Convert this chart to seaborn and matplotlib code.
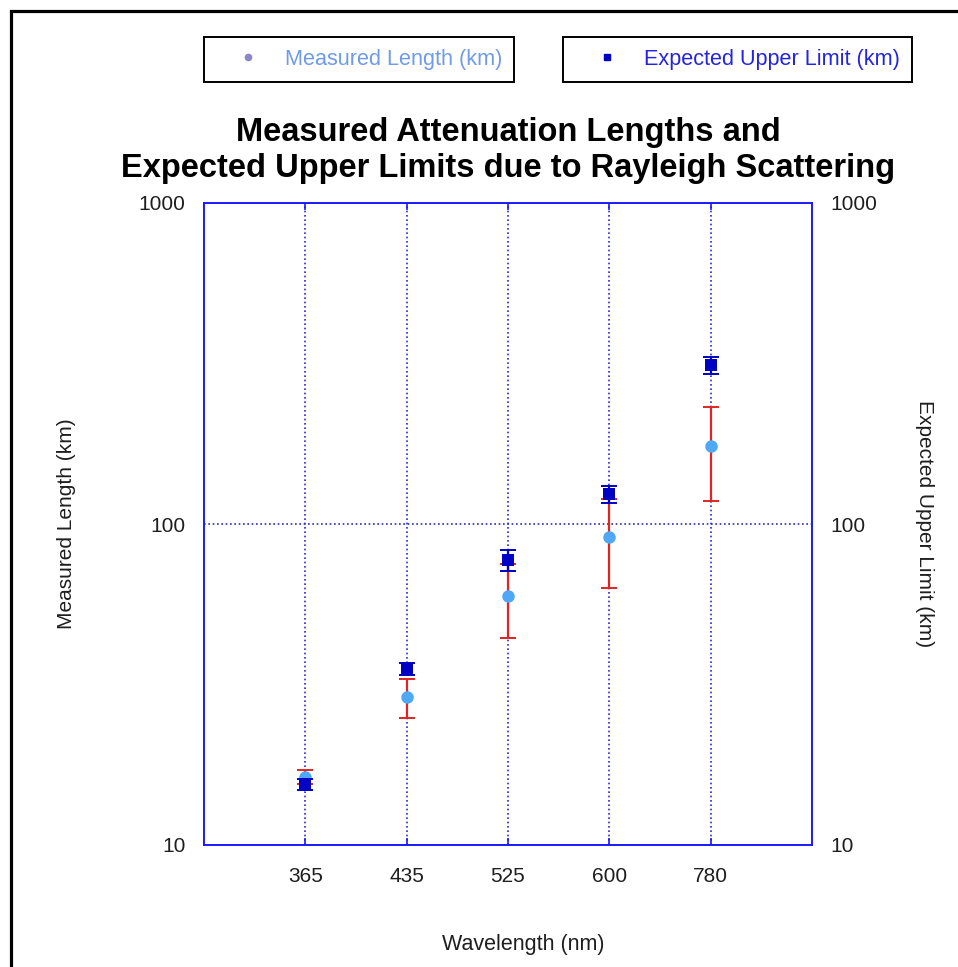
import numpy as np
import pandas as pd
import matplotlib
matplotlib.use("Agg")
import matplotlib.pyplot as plt
from matplotlib.lines import Line2D
from matplotlib.patches import Rectangle
import seaborn as sns

# Wavelength categories (nm)
wavelengths = ["365", "435", "525", "600", "780"]
# Measured attenuation lengths (km) and their uncertainties
measured = [16.3, 28.9, 59.7, 91.3, 175.0]
measured_err = [0.8, 4.0, 15.6, 28.2, 57.0]
# Expected upper limits from Rayleigh scattering (km) and uncertainties
expected = [15.4, 35.3, 77.2, 124.0, 313.0]
expected_err = [0.6, 1.5, 6.0, 7.5, 19.5]

df = pd.DataFrame({
    "Wavelength": wavelengths,
    "Measured": measured,
    "MeasuredErr": measured_err,
    "Expected": expected,
    "ExpectedErr": expected_err,
})

sns.set_style("white")
plt.rcParams["font.family"] = ["Liberation Sans", "DejaVu Sans"]

AXIS_BLUE = "#1a1aff"
GRID_BLUE = "#2a2ad0"
POINT_LIGHT = "#4fa8f5"
POINT_DARK = "#0000c4"
ERR_RED = "#e02424"
TEXT = "#1e1e1e"
FS = 15

fig = plt.figure(figsize=(9.58, 9.67), dpi=100)
ax = fig.add_axes([204 / 958, 1 - 845 / 967, 608 / 958, 642 / 967])

pos = np.arange(len(df))

# measured values with red error bars
ax.errorbar(pos, df["Measured"], yerr=df["MeasuredErr"], fmt="none",
            ecolor=ERR_RED, elinewidth=1.6, capsize=6, capthick=1.4, zorder=3)
sns.stripplot(data=df, x="Wavelength", y="Measured", order=wavelengths,
              jitter=False, color=POINT_LIGHT, size=9, linewidth=0,
              ax=ax, zorder=4)

# expected upper limits with blue error bars
ax.errorbar(pos, df["Expected"], yerr=df["ExpectedErr"], fmt="none",
            ecolor=POINT_DARK, elinewidth=1.6, capsize=6, capthick=1.4, zorder=5)
sns.stripplot(data=df, x="Wavelength", y="Expected", order=wavelengths,
              jitter=False, color=POINT_DARK, marker="s", size=8.5,
              linewidth=0, ax=ax, zorder=6)

ax.set_yscale("log")
ax.set_ylim(10, 1000)
ax.set_xlim(-1, len(wavelengths))
ax.set_yticks([10, 100, 1000])
ax.set_yticklabels(["10", "100", "1000"])
ax.yaxis.set_minor_locator(matplotlib.ticker.NullLocator())
ax.set_xticks(pos)
ax.set_xticklabels(wavelengths)

ax.grid(True, which="major", color=GRID_BLUE, linestyle=(0, (1, 1.6)),
        linewidth=1.2)
ax.set_axisbelow(True)

for s in ax.spines.values():
    s.set_color(AXIS_BLUE)
    s.set_linewidth(1.4)
    s.set_visible(True)

ax.tick_params(axis="x", direction="in", top=True, bottom=True, length=5,
               width=1.2, color=AXIS_BLUE, pad=15.5, labelsize=FS,
               labelcolor=TEXT)
ax.tick_params(axis="y", length=0, pad=13.5, labelsize=FS, labelcolor=TEXT)

ax.set_xlabel("Wavelength (nm)", fontsize=15.5, color=TEXT)
ax.set_ylabel("Measured Length (km)", fontsize=FS, color=TEXT)
ax.xaxis.set_label_coords(0.5255, -0.139)
ax.yaxis.set_label_coords(-0.2105, 0.5)

# right-hand axis for the expected upper limits
ax2 = ax.twinx()
ax2.set_yscale("log")
ax2.set_ylim(10, 1000)
ax2.set_yticks([10, 100, 1000])
ax2.set_yticklabels(["10", "100", "1000"])
ax2.yaxis.set_minor_locator(matplotlib.ticker.NullLocator())
ax2.tick_params(axis="y", length=0, pad=13, labelsize=FS, labelcolor=TEXT)
for s in ax2.spines.values():
    s.set_visible(False)
ax2.set_ylabel("Expected Upper Limit (km)", fontsize=FS, color=TEXT,
               rotation=270, va="bottom")
ax2.yaxis.set_label_coords(1.1694, 0.5)

ax.set_title("Measured Attenuation Lengths and\n"
             "Expected Upper Limits due to Rayleigh Scattering",
             fontsize=23.5, fontweight="bold", color="black", pad=18.5,
             linespacing=1.23)

# two separate legend boxes above the plot
h_meas = Line2D([], [], linestyle="none", marker="o", markersize=4.5,
                color="#8a86c8")
h_exp = Line2D([], [], linestyle="none", marker="s", markersize=4.5,
               color=POINT_DARK)
leg_kw = dict(loc="upper left", fontsize=15.6, frameon=True, fancybox=False,
              borderpad=0.55, handlelength=2.95, handletextpad=0.23,
              borderaxespad=0.0, edgecolor="black", framealpha=1.0)
leg1 = fig.legend(handles=[h_meas], labels=["Measured Length (km)"],
                  bbox_to_anchor=(204 / 958, 1 - 37 / 967), labelcolor="#6f9be8",
                  **leg_kw)
leg2 = fig.legend(handles=[h_exp], labels=["Expected Upper Limit (km)"],
                  bbox_to_anchor=(563 / 958, 1 - 37 / 967), labelcolor="#2424e0",
                  **leg_kw)
for lg in (leg1, leg2):
    lg.get_frame().set_linewidth(1.4)

# page border along the left and top edges
fig.patches.append(Rectangle((10.5 / 958, -0.1), 1.2, 1 - 10.5 / 967 + 0.1,
                             transform=fig.transFigure, fill=False,
                             edgecolor="black", linewidth=2.3, zorder=10))

fig.savefig("out.png", dpi=100, facecolor="white")
